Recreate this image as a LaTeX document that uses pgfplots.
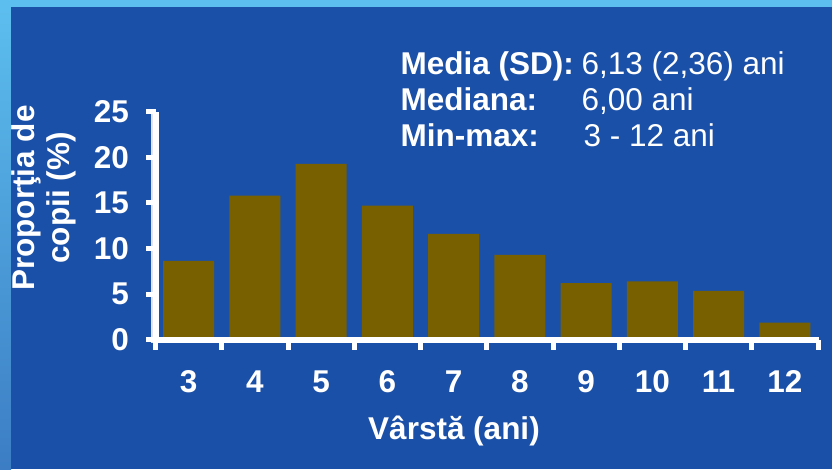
\documentclass[border=0pt]{standalone}
\usepackage{pgfplots}
\pgfplotsset{compat=1.18}
\usepackage{fontspec}
\setmainfont{Liberation Sans}

\definecolor{bgblue}{RGB}{27,80,168}
\definecolor{stripA}{RGB}{92,190,238}
\definecolor{stripB}{RGB}{60,125,196}
\definecolor{barcol}{RGB}{120,96,0}

\newcommand{\bigtxt}{\fontsize{31.5}{31.5}\selectfont}

\begin{document}
\begin{tikzpicture}
% background
\fill[stripA] (0pt,0pt) rectangle (832pt,469pt);
\shade[top color=stripA, bottom color=stripB] (0pt,0pt) rectangle (11pt,462pt);
\fill[bgblue] (11pt,0pt) rectangle (832pt,462pt);

\begin{axis}[
    at={(155.5pt,129.5pt)}, anchor=south west,
    scale only axis,
    width=662.5pt,
    height=227.5pt,
    xmin=2.5, xmax=12.5,
    ymin=0, ymax=25,
    axis x line*=bottom,
    axis y line*=left,
    axis line style={draw=none},
    tick align=outside,
    major tick length=10pt,
    tick style={draw=none},
    ytick={0,5,...,25},
    xtick={2.5,3.5,...,11.5},
    xticklabels={3,4,5,6,7,8,9,10,11,12},
    /pgf/number format/assume math mode=true,
    ticklabel style={white, font=\bfseries\bigtxt},
    xticklabel style={anchor=base, xshift=33.1pt, yshift=-42.5pt},
    yticklabel style={xshift=-13pt},
]
\addplot[ybar, bar width=0.77, fill=barcol, draw=none] coordinates {
    (3,8.65) (4,15.8) (5,19.3) (6,14.7) (7,11.6)
    (8,9.3) (9,6.2) (10,6.4) (11,5.35) (12,1.85)
};
\end{axis}

% thick white axis lines and ticks (filled, so they keep their width)
\fill[white!80!gray] (151pt,126.5pt) rectangle (153pt,357pt);
\fill[white] (153pt,126.5pt) rectangle (158.5pt,357pt);
\fill[white] (155.5pt,126.5pt) rectangle (818.5pt,132.5pt);
\foreach \k in {0,...,5}
  \fill[white] (145.5pt,{(129.5+45.5*\k-2.5)*1pt}) rectangle (155.5pt,{(129.5+45.5*\k+2.5)*1pt});
\foreach \k in {0,...,10}
  \fill[white] ({(155.5+66.25*\k-2.5)*1pt},119.5pt) rectangle ({(155.5+66.25*\k+2.5)*1pt},129.5pt);

% axis titles
\node[rotate=90, align=center, white, font=\bfseries\bigtxt] at (44pt,271pt)
    {Proporţia de\\[4pt]copii (\%)};
\node[white, font=\bfseries\bigtxt] at (454pt,38pt) {Vârstă (ani)};

% summary statistics
\node[anchor=base west, white, font=\bfseries\bigtxt] at (397pt,394pt) {Media (SD):};
\node[anchor=base west, white, font=\bigtxt] at (578pt,394pt) {6,13 (2,36) ani};
\node[anchor=base west, white, font=\bfseries\bigtxt] at (397pt,358pt) {Mediana:};
\node[anchor=base west, white, font=\bigtxt] at (578pt,358pt) {6,00 ani};
\node[anchor=base west, white, font=\bfseries\bigtxt] at (397pt,322pt) {Min-max:};
\node[anchor=base west, white, font=\bigtxt] at (580pt,322pt) {3 - 12 ani};

\pgfresetboundingbox
\useasboundingbox (0pt,0pt) rectangle (832pt,469pt);
\end{tikzpicture}
\end{document}
